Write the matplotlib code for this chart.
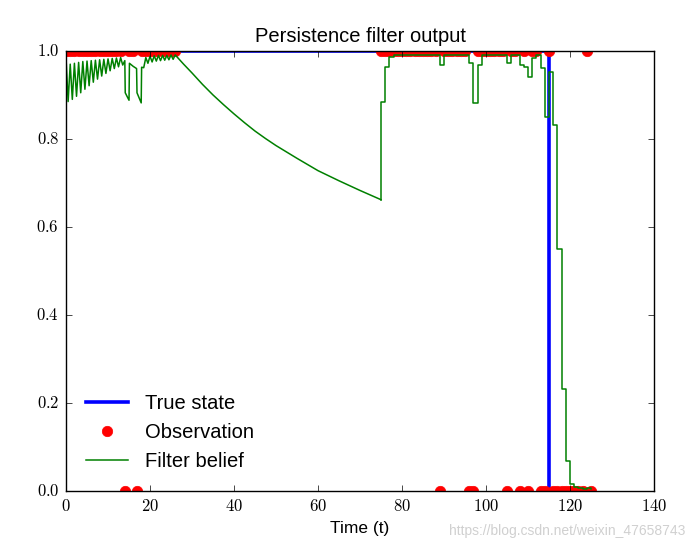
import matplotlib
matplotlib.use('Agg')
import matplotlib.pyplot as plt
from matplotlib.ticker import FuncFormatter, MultipleLocator

# True state of the feature
state_t = [0, 115, 115, 125]
state_v = [1, 1, 0, 0]

# Observations (integer times), zeros listed separately
obs_t = list(range(0, 27)) + list(range(75, 126))
obs_zero_t = [14, 17, 89, 96, 97, 105, 108, 110, 113, 114,
              116, 117, 118, 119, 120, 121, 122, 123, 125]
obs_v = [0 if t in obs_zero_t else 1 for t in obs_t]

# Filter belief, first part (zigzag + long decay)
belief_t = [0, 0.5, 1, 1.5, 2, 2.5, 3, 3.5, 4, 4.5, 5, 5.5, 6, 6.5, 7, 7.5,
            8, 8.5, 9, 9.5, 10, 10.5, 11, 11.5, 12, 12.5, 13, 13.5,
            14, 14.1, 15, 15.1, 16, 16.8, 16.9, 17.9, 18, 18.5,
            19, 19.5, 20, 20.5, 21, 21.5, 22, 22.5, 23, 23.5, 24, 24.5, 25, 25.5, 26,
            28, 30, 32.5, 35, 37.5, 40, 42.5, 45, 47.5, 50, 55, 60, 65, 70, 75]
belief_v = [0.985, 0.885, 0.97, 0.89, 0.972, 0.897, 0.974, 0.905, 0.976, 0.913,
            0.977, 0.921, 0.978, 0.929, 0.979, 0.936, 0.98, 0.943, 0.981, 0.949,
            0.982, 0.955, 0.983, 0.96, 0.984, 0.964, 0.985, 0.968,
            0.978, 0.905, 0.888, 0.972, 0.965, 0.96, 0.905, 0.882, 0.963, 0.962,
            0.985, 0.972, 0.988, 0.975, 0.989, 0.977, 0.99, 0.978, 0.99, 0.979,
            0.99, 0.98, 0.991, 0.981, 0.991,
            0.970, 0.950, 0.924, 0.900, 0.878, 0.857, 0.837, 0.818, 0.801,
            0.785, 0.756, 0.728, 0.705, 0.683, 0.662]

# Filter belief, second part (step output from t=75)
step_t = [75] + list(range(75, 126))
step_v = [0.662, 0.885, 0.963, 0.987,
          0.99, 0.99, 0.99, 0.99, 0.99, 0.99, 0.99, 0.99, 0.99, 0.99, 0.99,  # 78-88
          0.968,                                                              # 89
          0.99, 0.99, 0.99, 0.99, 0.99, 0.99,                                 # 90-95
          0.972, 0.882, 0.968,                                                # 96-98
          0.99, 0.99, 0.99, 0.99, 0.99, 0.99,                                 # 99-104
          0.972, 0.99, 0.99,                                                  # 105-107
          0.968, 0.964, 0.94, 0.985, 0.99,                                    # 108-112
          0.961, 0.851, 0.953, 0.832, 0.549, 0.231, 0.069,                    # 113-119
          0.016, 0.010, 0.006, 0.004, 0.006, 0.004]                           # 120-125

plt.style.use('classic')
plt.rcParams['mathtext.fontset'] = 'cm'
plt.rcParams['font.family'] = ['Liberation Sans', 'DejaVu Sans']

fig = plt.figure(figsize=(6.92, 5.48), dpi=100)
ax = fig.add_axes([0.0954, 0.104, 0.8497, 0.803])

ax.plot(state_t, state_v, '-', color='b', lw=2.6, label='True state')
ax.plot(obs_t, obs_v, 'o', color='r', mec='r', ms=7.5, label='Observation')
ax.plot(belief_t, belief_v, '-', color='g', lw=1.1, label='Filter belief')
ax.plot(step_t, step_v, '-', color='g', lw=1.1, drawstyle='steps-post')

ax.set_xlim(0, 140)
ax.set_ylim(0, 1.0)
ax.xaxis.set_major_locator(MultipleLocator(20))
ax.yaxis.set_major_locator(MultipleLocator(0.2))
ax.xaxis.set_major_formatter(FuncFormatter(lambda x, pos: r'$%d$' % round(x)))
ax.yaxis.set_major_formatter(FuncFormatter(lambda y, pos: r'$%.1f$' % y))
ax.tick_params(labelsize=12)
ax.tick_params(axis='x', pad=5)
ax.tick_params(axis='y', pad=5)

ax.set_title('Persistence filter output', fontsize=14.5, y=1.005)
ax.set_xlabel('Time (t)', fontsize=12.5, labelpad=5)

ax.legend(loc='lower left', frameon=False, numpoints=1, fontsize=14.5,
          handlelength=2.1, handletextpad=0.8, labelspacing=0.5,
          borderaxespad=0.6)

fig.text(0.99, 0.018, 'https://blog.csdn.net/weixin_47658743', ha='right', va='bottom',
         fontsize=10, color='#d0d0d0')

plt.savefig('out.png', dpi=100)
